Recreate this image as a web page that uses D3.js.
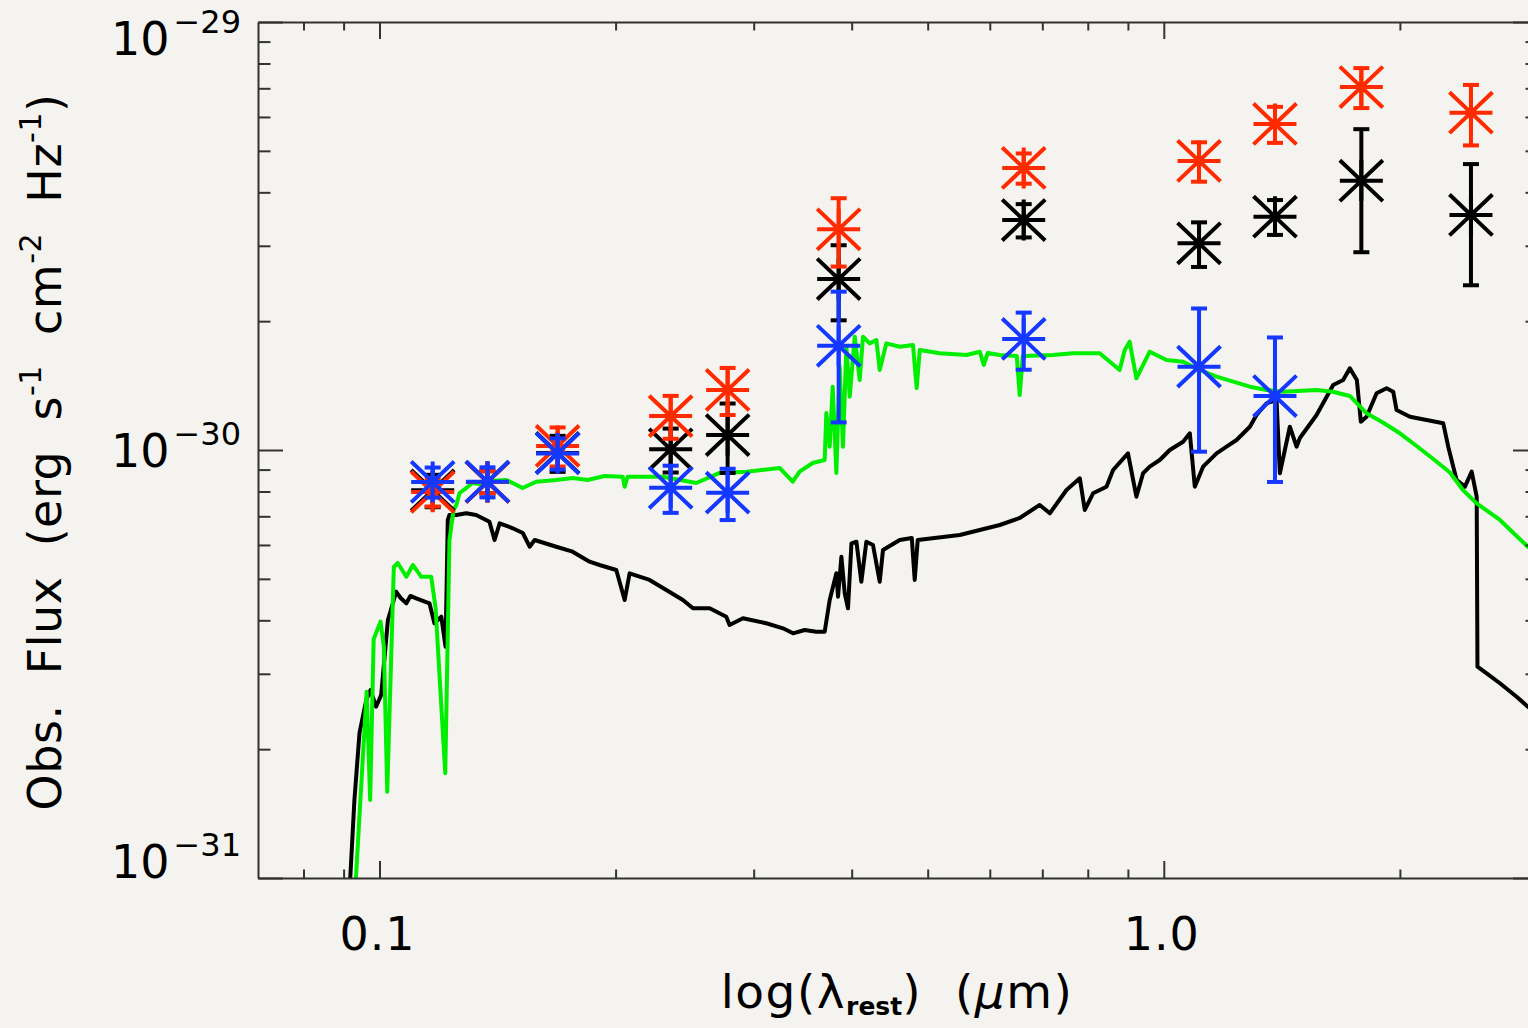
<!DOCTYPE html>
<html><head><meta charset="utf-8">
<script src="https://cdn.jsdelivr.net/npm/d3@7"></script>
<style>body{margin:0;background:#f4f2ee}svg{display:block}text{font-family:"DejaVu Sans",sans-serif;fill:#000}</style>
</head><body>
<script>
// ---------------- DATA ----------------
const FLUX_UNIT = 1e-30; // erg s^-1 cm^-2 Hz^-1
// photometric bands (rest-frame wavelength, micron)
const bandWave = [0.1169, 0.1373, 0.1687, 0.2351, 0.2779, 0.3850, 0.6628, 1.109, 1.386, 1.786, 2.464];
// red points
const redFlux  = [0.798, 0.842, 1.022, 1.200, 1.381, 3.279, 4.560, 4.735, 5.777, 7.048, 6.138];
const redErr   = [0.060, 0.050, 0.107, 0.138, 0.174, 0.596, 0.370, 0.500, 0.558, 0.755, 0.990];
// black points
const blackPtFlux = [0.805, 0.842, 0.984, 1.004, 1.084, 2.509, 3.446, 3.040, 3.509, 4.258, 3.541];
const blackPtErr  = [0.070, 0.050, 0.095, 0.118, 0.200, 0.500, 0.308, 0.363, 0.328, 1.360, 1.115];
// blue points
const blueFlux = [0.842, 0.843, 0.982, 0.816, 0.795, 1.752, 1.817, 1.566, 1.337, null, null];
const blueErr  = [0.068, 0.068, 0.082, 0.103, 0.109, 0.592, 0.277, 0.575, 0.495, null, null];

// green model spectrum
const greenWave = [0.0932,0.0963,0.0973,0.0983,0.1003,0.1013,0.1023,0.1043,0.1055,0.1082,0.1103,0.1130,0.1164,0.1179,0.1213,0.1228,0.1243,0.1253,0.1265,0.1290,0.1314,0.1342,0.1381,0.1451,0.1487,0.1522,0.1584,0.1680,0.1763,0.1842,0.1936,0.2042,0.2054,0.2072,0.2296,0.2535,0.2715,0.2937,0.3237,0.3364,0.3433,0.3567,0.3695,0.3713,0.3750,0.3783,0.3824,0.3861,0.3899,0.3938,0.3977,0.4036,0.4095,0.4135,0.4217,0.4301,0.4343,0.4429,0.4606,0.4789,0.4841,0.4885,0.5181,0.5602,0.5826,0.5895,0.5964,0.6178,0.6494,0.6551,0.6610,0.7219,0.7656,0.8285,0.8785,0.8916,0.9046,0.9227,0.9596,1.0080,1.0583,1.1116,1.1675,1.2259,1.2875,1.3521,1.4198,1.5660,1.6427,1.7267,1.8136,1.9025,2.0000,2.1007,2.2058,2.3166,2.4068,2.5058,2.6827,2.9124,3.0000];
const greenFlux = [0.0963,0.2725,0.1521,0.3611,0.3971,0.3471,0.1591,0.5329,0.5445,0.5058,0.5387,0.5058,0.5058,0.4274,0.1757,0.6163,0.7244,0.7441,0.7935,0.8150,0.8374,0.8329,0.8465,0.8510,0.8329,0.8150,0.8432,0.8510,0.8603,0.8510,0.8695,0.8661,0.8209,0.8661,0.8661,0.8374,0.8838,0.8899,0.9079,0.8432,0.8899,0.9325,0.9476,1.2200,1.0179,1.4058,0.8838,1.5655,1.0179,1.7430,1.3322,1.8391,1.4573,1.8391,1.7750,1.8072,1.5379,1.7750,1.7430,1.7590,1.3959,1.7125,1.6824,1.6672,1.6971,1.5799,1.6852,1.6672,1.6580,1.3444,1.6580,1.6672,1.6824,1.6824,1.5379,1.7125,1.7906,1.4710,1.6971,1.6226,1.6077,1.5379,1.4836,1.4443,1.4058,1.3811,1.3684,1.3811,1.3684,1.3373,1.2181,1.1593,1.0940,1.0218,0.9528,0.8860,0.8065,0.7506,0.6862,0.5943,0.5746];

// black model spectrum
const blackWave = [0.0916,0.0929,0.0943,0.0962,0.0974,0.0990,0.1005,0.1025,0.1040,0.1050,0.1064,0.1082,0.1095,0.1114,0.1158,0.1175,0.1199,0.1214,0.1222,0.1228,0.1253,0.1290,0.1328,0.1381,0.1402,0.1423,0.1479,0.1523,0.1554,0.1577,0.1680,0.1763,0.1853,0.1908,0.2004,0.2054,0.2084,0.2210,0.2321,0.2437,0.2510,0.2636,0.2768,0.2795,0.2907,0.3113,0.3269,0.3367,0.3484,0.3606,0.3695,0.3750,0.3824,0.3843,0.3881,0.3919,0.3957,0.3997,0.4056,0.4115,0.4176,0.4258,0.4343,0.4385,0.4606,0.4772,0.4813,0.4856,0.5493,0.6178,0.6551,0.6947,0.7157,0.7515,0.7815,0.7930,0.8125,0.8451,0.8617,0.9002,0.9227,0.9410,0.9596,0.9883,1.0178,1.0583,1.0794,1.0953,1.1223,1.1675,1.2023,1.2381,1.2875,1.3129,1.3521,1.3923,1.4060,1.4478,1.4767,1.4911,1.5660,1.6443,1.6932,1.7267,1.7627,1.7835,1.8136,1.8677,1.9234,1.9611,1.9806,2.0598,2.1632,2.2716,2.3049,2.3623,2.4208,2.4692,2.5058,2.5115,2.5801,2.6827,2.8176,2.9124,3.0000];
const blackFlux = [0.0937,0.1521,0.2182,0.2606,0.2749,0.2513,0.2677,0.4008,0.4384,0.4667,0.4511,0.4384,0.4560,0.4503,0.4384,0.3937,0.4079,0.3471,0.6862,0.7050,0.7050,0.7114,0.7050,0.6800,0.6163,0.6741,0.6563,0.6399,0.5943,0.6163,0.5943,0.5786,0.5483,0.5387,0.5244,0.4462,0.5152,0.4970,0.4709,0.4462,0.4267,0.4267,0.4079,0.3901,0.4044,0.3937,0.3832,0.3730,0.3797,0.3762,0.3762,0.4462,0.5152,0.4543,0.5634,0.4627,0.4267,0.6053,0.6106,0.4924,0.6106,0.5998,0.4924,0.5839,0.6163,0.6228,0.4970,0.6163,0.6329,0.6680,0.6938,0.7441,0.7114,0.8065,0.8589,0.7244,0.7922,0.8209,0.8981,0.9824,0.7778,0.8823,0.9141,0.9476,1.0000,1.0457,1.0940,0.8209,0.9141,0.9824,1.0179,1.0553,1.1334,1.2071,1.2857,1.3088,0.8823,1.1334,1.0179,1.0667,1.2071,1.4186,1.4573,1.5522,1.4573,1.1645,1.1963,1.3568,1.3938,1.3684,1.2400,1.1963,1.1751,1.1545,1.0179,0.8510,0.8209,0.8899,0.7778,0.3116,0.3007,0.2851,0.2652,0.2513,0.2429];

// ticks
const xMajorTicks = [0.1, 1.0];
const xTickLabels = ["0.1", "1.0"];
const xMinorTicks = [0.08, 0.09, 0.2, 0.3, 0.4, 0.5, 0.6, 0.7, 0.8, 0.9, 2, 3];
const yExponents = [-31, -30, -29];
const yMinorMantissas = [2, 3, 4, 5, 6, 7, 8, 9];

// ---------------- CHART ----------------
const W = 1528, H = 1028;
const L = 258, R = 1538, T = 22, B = 878;
const x = d3.scaleLog().domain([0.07, 3.0]).range([L, R]);
const y = d3.scaleLog().domain([1e-31, 1e-29]).range([B, T]);

const svg = d3.select("body").append("svg").attr("width", W).attr("height", H);
svg.append("rect").attr("width", W).attr("height", H).attr("fill", "#f5f3ef");
svg.append("clipPath").attr("id", "plot").append("rect")
  .attr("x", L).attr("y", T).attr("width", R - L).attr("height", B - T);

const plot = svg.append("g").attr("clip-path", "url(#plot)");
const line = d3.line().x(d => x(d[0])).y(d => y(d[1] * FLUX_UNIT));
plot.append("path").datum(d3.zip(blackWave, blackFlux)).attr("d", line)
  .attr("fill", "none").attr("stroke", "#000").attr("stroke-width", 4).attr("stroke-linejoin", "round");
plot.append("path").datum(d3.zip(greenWave, greenFlux)).attr("d", line)
  .attr("fill", "none").attr("stroke", "#00ee00").attr("stroke-width", 4).attr("stroke-linejoin", "round");

// asterisk symbol (psym=2 style)
const asterisk = {
  draw(ctx, size) {
    const r = Math.sqrt(size) / 2, v = r * 0.95;
    ctx.moveTo(-r, 0); ctx.lineTo(r, 0);
    ctx.moveTo(0, -v); ctx.lineTo(0, v);
    ctx.moveTo(-r, -v); ctx.lineTo(r, v);
    ctx.moveTo(-r, v); ctx.lineTo(r, -v);
  }
};
const sym = d3.symbol().type(asterisk).size(43 * 43);

function drawSeries(flux, err, color) {
  const pts = bandWave.map((w, i) => ({w, f: flux[i], e: err[i]})).filter(d => d.f != null);
  const g = plot.append("g").attr("stroke", color).attr("stroke-width", 4).attr("fill", "none");
  const eb = g.selectAll("g.eb").data(pts).join("g").attr("class", "eb");
  eb.append("line").attr("x1", d => x(d.w)).attr("x2", d => x(d.w))
    .attr("y1", d => y((d.f - d.e) * FLUX_UNIT)).attr("y2", d => y((d.f + d.e) * FLUX_UNIT));
  eb.append("line").attr("x1", d => x(d.w) - 8).attr("x2", d => x(d.w) + 8)
    .attr("y1", d => y((d.f + d.e) * FLUX_UNIT)).attr("y2", d => y((d.f + d.e) * FLUX_UNIT));
  eb.append("line").attr("x1", d => x(d.w) - 8).attr("x2", d => x(d.w) + 8)
    .attr("y1", d => y((d.f - d.e) * FLUX_UNIT)).attr("y2", d => y((d.f - d.e) * FLUX_UNIT));
  g.selectAll("path.ast").data(pts).join("path").attr("class", "ast")
    .attr("d", sym).attr("transform", d => `translate(${x(d.w)},${y(d.f * FLUX_UNIT)})`);
}
drawSeries(blackPtFlux, blackPtErr, "#000000");
drawSeries(redFlux, redErr, "#ff2a00");
drawSeries(blueFlux, blueErr, "#1438ff");

// axes
const axisColor = "#333";
const yMajor = yExponents.map(e => Math.pow(10, e));
const yMinor = [];
yExponents.slice(0, -1).forEach(e => yMinorMantissas.forEach(m => yMinor.push(m * Math.pow(10, e))));

function styleAxis(g, keepDomain) {
  g.selectAll("line").attr("stroke", axisColor).attr("stroke-width", 2);
  g.select(".domain").attr("stroke", keepDomain ? axisColor : "none").attr("stroke-width", 2);
  g.selectAll("text").remove();
}
const axes = svg.append("g");
axes.append("g").attr("transform", `translate(0,${B})`)
  .call(d3.axisTop(x).tickValues(xMajorTicks).tickSize(17).tickSizeOuter(0).tickFormat(""))
  .call(g => styleAxis(g, true));
axes.append("g").attr("transform", `translate(0,${B})`)
  .call(d3.axisTop(x).tickValues(xMinorTicks).tickSize(8.5).tickSizeOuter(0).tickFormat(""))
  .call(g => styleAxis(g, false));
axes.append("g").attr("transform", `translate(0,${T})`)
  .call(d3.axisBottom(x).tickValues(xMajorTicks).tickSize(17).tickSizeOuter(0).tickFormat(""))
  .call(g => styleAxis(g, true));
axes.append("g").attr("transform", `translate(0,${T})`)
  .call(d3.axisBottom(x).tickValues(xMinorTicks).tickSize(8.5).tickSizeOuter(0).tickFormat(""))
  .call(g => styleAxis(g, false));
axes.append("g").attr("transform", `translate(${L},0)`)
  .call(d3.axisRight(y).tickValues(yMajor).tickSize(25).tickSizeOuter(0).tickFormat(""))
  .call(g => styleAxis(g, true));
axes.append("g").attr("transform", `translate(${L},0)`)
  .call(d3.axisRight(y).tickValues(yMinor).tickSize(12.5).tickSizeOuter(0).tickFormat(""))
  .call(g => styleAxis(g, false));
axes.append("g").attr("transform", `translate(${R},0)`)
  .call(d3.axisLeft(y).tickValues(yMajor).tickSize(25).tickSizeOuter(0).tickFormat(""))
  .call(g => styleAxis(g, true));
axes.append("g").attr("transform", `translate(${R},0)`)
  .call(d3.axisLeft(y).tickValues(yMinor).tickSize(12.5).tickSizeOuter(0).tickFormat(""))
  .call(g => styleAxis(g, false));

// x tick labels
svg.selectAll("text.xl").data(xMajorTicks).join("text").attr("class", "xl")
  .attr("x", d => x(d) - 2).attr("y", 950).attr("text-anchor", "middle").attr("font-size", 46)
  .attr("letter-spacing", 1).text((d, i) => xTickLabels[i]);

// y tick labels
const capH = 33;
yExponents.forEach(e => {
  const ty = y(Math.pow(10, e));
  const base = Math.min(Math.max(ty + capH / 2, T + capH), B);
  const t = svg.append("text").attr("x", 241).attr("y", base).attr("text-anchor", "end").attr("font-size", 46);
  t.append("tspan").text("10");
  t.append("tspan").attr("dx", 4).attr("dy", -22).attr("font-size", 32).text("\u2212" + Math.abs(e));
});

// x axis title
const xt = svg.append("text").attr("x", 897).attr("y", 1008).attr("text-anchor", "middle")
  .attr("font-size", 47).attr("letter-spacing", 1.5).style("white-space", "pre");
xt.append("tspan").text("log(\u03bb");
xt.append("tspan").attr("dy", 7).attr("font-size", 25).attr("font-weight", "bold").attr("letter-spacing", 0).text("rest");
xt.append("tspan").attr("dy", -7).text(")  (");
xt.append("tspan").attr("font-style", "italic").text("\u03bc");
xt.append("tspan").text("m)");

// y axis title
const yt = svg.append("text").attr("transform", "translate(61,452) rotate(-90)")
  .attr("text-anchor", "middle").attr("font-size", 46).attr("letter-spacing", 0.5).style("white-space", "pre");
const parts = [["Obs.  Flux  (erg  s", false], ["-1", true], ["  cm", false], ["-2", true], ["  Hz", false], ["-1", true], [")", false]];
parts.forEach(([s, sup], i) => {
  const sp = yt.append("tspan").text(s);
  if (sup) sp.attr("dy", -20).attr("font-size", 30);
  else if (i > 0) sp.attr("dy", 20);
});
</script>
</body></html>
